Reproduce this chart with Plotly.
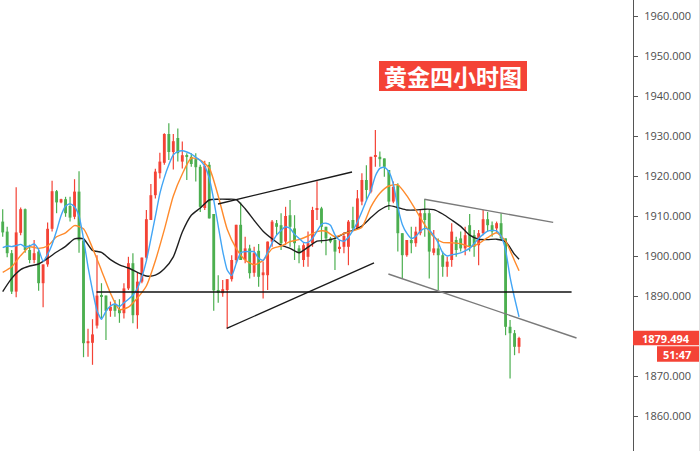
import plotly.graph_objects as go

# ---------------- data ----------------
opens = [1908.6, 1906.1, 1900.7, 1891.1, 1905.8, 1911.7, 1901.5, 1899.0, 1901.1, 1893.2,
         1897.9, 1906.8, 1916.2, 1913.4, 1914.2, 1912.5, 1909.8, 1916.1, 1903.9, 1878.2,
         1878.3, 1882.6, 1890.1, 1890.1, 1886.3, 1887.8, 1886.7, 1885.7, 1891.9, 1898.2,
         1885.2, 1893.6, 1899.6, 1909.0, 1915.2, 1920.7, 1923.3, 1930.5, 1926.0, 1929.5,
         1923.6, 1925.2, 1924.8, 1924.2, 1922.3, 1912.0, 1922.8, 1910.5, 1891.5, 1890.7,
         1891.5, 1894.2, 1899.0, 1907.8, 1899.0, 1901.9, 1895.8, 1901.3, 1895.2, 1895.2,
         1903.6, 1908.2, 1907.7, 1903.6, 1910.2, 1906.9, 1901.9, 1899.0, 1899.8, 1903.2,
         1911.5, 1911.9, 1907.3, 1904.4, 1904.0, 1901.9, 1902.3, 1902.3, 1909.0, 1906.9,
         1913.6, 1919.0, 1916.1, 1924.8, 1924.8, 1924.4, 1921.5, 1913.6, 1917.7, 1905.7,
         1900.2, 1904.0, 1903.2, 1905.7, 1910.7, 1910.7, 1900.8, 1901.9, 1900.2, 1897.3,
         1899.0, 1904.0, 1904.4, 1901.9, 1907.7, 1905.2, 1902.7, 1905.7, 1909.2, 1907.7,
         1906.9, 1908.2, 1904.4, 1882.3, 1880.7, 1877.3]
highs = [1911.7, 1907.3, 1901.5, 1917.2, 1912.1, 1911.9, 1902.8, 1904.0, 1901.5, 1897.9,
         1908.4, 1918.8, 1916.5, 1914.3, 1914.8, 1914.8, 1919.2, 1921.2, 1904.5, 1881.8,
         1884.2, 1900.2, 1893.2, 1890.1, 1888.6, 1889.0, 1889.2, 1893.2, 1899.8, 1900.7,
         1895.8, 1899.6, 1911.5, 1918.0, 1921.8, 1925.8, 1930.7, 1933.2, 1930.5, 1931.9,
         1928.6, 1925.7, 1925.7, 1925.7, 1922.8, 1923.8, 1923.5, 1910.5, 1895.2, 1894.0,
         1894.2, 1900.2, 1907.8, 1913.4, 1904.8, 1902.8, 1902.3, 1903.0, 1898.6, 1903.6,
         1909.0, 1909.0, 1910.7, 1912.3, 1914.0, 1910.2, 1902.7, 1903.2, 1906.1, 1912.3,
         1918.7, 1912.3, 1907.3, 1904.8, 1904.8, 1904.0, 1906.0, 1909.0, 1912.3, 1916.5,
         1920.7, 1922.7, 1924.8, 1931.5, 1926.1, 1924.4, 1921.5, 1918.6, 1918.2, 1905.7,
         1904.0, 1907.3, 1907.3, 1911.5, 1914.2, 1911.5, 1906.5, 1904.4, 1901.1, 1899.8,
         1908.2, 1904.8, 1906.1, 1907.3, 1910.5, 1906.5, 1906.5, 1911.5, 1911.0, 1908.6,
         1908.6, 1910.7, 1904.4, 1884.0, 1881.5, 1879.8]
lows = [1904.8, 1899.7, 1890.5, 1889.7, 1905.2, 1900.8, 1898.2, 1898.2, 1891.3, 1887.2,
        1897.3, 1906.1, 1910.7, 1913.2, 1909.8, 1908.6, 1909.2, 1900.8, 1874.7, 1874.8,
        1872.8, 1881.9, 1884.4, 1879.0, 1884.8, 1884.8, 1883.3, 1884.4, 1891.5, 1883.2,
        1881.8, 1893.2, 1899.0, 1909.0, 1914.4, 1919.4, 1922.8, 1924.0, 1921.6, 1923.6,
        1921.9, 1919.0, 1922.3, 1918.6, 1911.0, 1911.5, 1909.4, 1886.3, 1888.3, 1889.8,
        1881.9, 1893.6, 1898.2, 1899.0, 1898.2, 1894.4, 1894.8, 1892.3, 1889.4, 1891.5,
        1902.3, 1905.2, 1901.5, 1902.7, 1902.3, 1899.0, 1898.2, 1897.3, 1897.3, 1902.3,
        1909.0, 1903.2, 1900.2, 1903.2, 1896.5, 1900.7, 1900.7, 1897.7, 1906.5, 1906.5,
        1912.7, 1914.0, 1915.7, 1922.3, 1922.3, 1919.8, 1911.5, 1913.2, 1901.1, 1894.4,
        1899.8, 1900.7, 1902.3, 1905.2, 1904.8, 1894.4, 1900.2, 1891.5, 1894.8, 1894.8,
        1897.3, 1899.8, 1901.1, 1900.2, 1901.1, 1899.8, 1897.7, 1905.2, 1906.1, 1904.8,
        1905.7, 1904.0, 1880.2, 1869.4, 1875.2, 1875.7]
closes = [1905.9, 1900.7, 1891.1, 1905.9, 1911.7, 1901.5, 1899.0, 1900.7, 1893.2, 1897.9,
          1906.8, 1916.2, 1913.4, 1914.2, 1910.7, 1909.6, 1916.1, 1903.9, 1878.2, 1878.7,
          1880.4, 1890.1, 1889.8, 1886.3, 1887.3, 1886.3, 1885.7, 1891.9, 1898.2, 1885.2,
          1893.6, 1899.6, 1909.2, 1915.2, 1921.1, 1923.6, 1930.5, 1926.0, 1928.7, 1925.7,
          1925.2, 1924.8, 1923.0, 1922.2, 1912.3, 1922.5, 1909.4, 1891.4, 1890.8, 1891.7,
          1894.2, 1899.0, 1907.8, 1899.0, 1901.9, 1895.7, 1900.7, 1894.8, 1895.9, 1903.6,
          1908.6, 1907.3, 1903.2, 1910.0, 1907.3, 1903.2, 1900.7, 1902.7, 1903.2, 1911.5,
          1911.9, 1907.3, 1904.4, 1903.6, 1901.1, 1902.3, 1905.0, 1908.6, 1906.9, 1914.4,
          1919.0, 1916.5, 1924.8, 1925.1, 1924.2, 1922.3, 1913.6, 1917.3, 1905.7, 1900.2,
          1904.0, 1903.2, 1906.1, 1910.7, 1909.0, 1901.1, 1901.9, 1900.2, 1897.3, 1898.6,
          1906.1, 1901.5, 1901.9, 1905.2, 1902.3, 1902.3, 1905.7, 1909.2, 1907.7, 1906.1,
          1908.2, 1904.4, 1882.3, 1880.7, 1877.3, 1879.494]

# fast average (blue), one value per candle
ma_fast = [1902.1, 1902.5, 1902.35, 1902.6, 1902.9, 1902.3, 1902.5, 1903.0, 1901.6, 1898.7,
           1900.4, 1902.9, 1906.3, 1910.1, 1912.5, 1913.1, 1912.3, 1910.0, 1904.3, 1897.3,
           1891.4, 1886.3, 1884.2, 1886.2, 1887.5, 1888.0, 1887.4, 1888.3, 1889.2, 1890.2,
           1891.9, 1894.8, 1898.8, 1904.3, 1909.9, 1915.6, 1919.6, 1922.8, 1925.3, 1926.1,
           1926.3, 1926.0, 1925.5, 1924.7, 1923.9, 1922.4, 1919.5, 1914.0, 1907.5, 1901.2,
           1896.5, 1895.1, 1898.1, 1900.8, 1901.1, 1901.1, 1901.1, 1899.4, 1898.9, 1900.9,
           1903.3, 1905.2, 1906.4, 1907.3, 1906.9, 1905.4, 1904.4, 1903.4, 1903.4, 1904.4,
           1906.2, 1907.9, 1908.2, 1907.7, 1905.3, 1904.0, 1903.7, 1904.7, 1906.4, 1908.5,
           1911.1, 1913.9, 1916.4, 1920.0, 1921.9, 1922.2, 1921.1, 1918.0, 1912.2, 1907.9,
           1905.7, 1904.4, 1904.9, 1906.2, 1906.9, 1906.5, 1905.1, 1903.3, 1900.8, 1900.0,
           1900.3, 1900.5, 1900.8, 1901.3, 1901.9, 1903.1, 1904.4, 1905.4, 1906.2, 1906.4,
           1906.3, 1905.0, 1901.5, 1894.7, 1889.5, 1884.8]

# medium (orange) and slow (black) averages, read every second candle
ma_mid = [1895.9, 1897.3, 1900.1, 1902.3, 1901.9, 1902.5, 1904.8, 1905.8, 1907.6, 1906.8,
          1902.0, 1896.4, 1890.7, 1886.6, 1887.2, 1889.5, 1892.5, 1898.8, 1906.6, 1915.0,
          1920.5, 1924.5, 1924.0, 1922.0, 1915.0, 1906.7, 1901.9, 1899.0, 1897.8, 1898.9,
          1901.8, 1902.5, 1903.6, 1904.1, 1905.0, 1906.1, 1906.2, 1904.8, 1905.6, 1906.3,
          1907.2, 1912.3, 1915.7, 1917.5, 1917.8, 1915.1, 1911.5, 1907.8, 1904.8, 1903.4,
          1903.3, 1903.1, 1902.3, 1903.1, 1904.6, 1905.8, 1903.7, 1898.8, 1896.3]
ma_slow = [1891.1, 1894.4, 1896.6, 1897.5, 1898.0, 1899.4, 1901.0, 1902.4, 1904.3, 1904.3,
           1901.4, 1900.9, 1899.1, 1897.8, 1897.0, 1895.9, 1895.0, 1895.2, 1896.8, 1899.8,
           1906.0, 1910.2, 1912.0, 1914.0, 1914.2, 1914.2, 1914.1, 1911.8, 1908.9, 1906.2,
           1904.3, 1902.7, 1901.9, 1900.8, 1902.2, 1903.7, 1903.9, 1904.4, 1905.6, 1906.4,
           1907.5, 1909.6, 1911.5, 1912.6, 1912.1, 1911.5, 1911.5, 1911.7, 1911.6, 1910.5,
           1909.0, 1907.4, 1905.2, 1904.2, 1904.1, 1904.2, 1903.6, 1900.4, 1899.2]

n_bars = len(closes)
bar_idx = list(range(n_bars))
ma_sparse_idx = list(range(0, n_bars - 1, 2)) + [n_bars - 1]

y_tick_values = [1860, 1870, 1880, 1890, 1900, 1910, 1920, 1930, 1940, 1950, 1960]
y_tick_labels = ["1860.000", "1870.000", "", "1890.000", "1900.000", "1910.000",
                 "1920.000", "1930.000", "1940.000", "1950.000", "1960.000"]

last_price_text = "1879.494"
countdown_text = "51:47"
title_text = "黄金四小时图"

# hand-drawn trend lines (bar index, price)
rise_top_x = [47.95, 77.8]
rise_top_y = [1913.0, 1921.0]
rise_bot_x = [49.9, 82.7]
rise_bot_y = [1881.9, 1898.3]
flat_x = [20.9, 126.7]
flat_y = [1891.0, 1891.0]
chan_top_x = [93.9, 122.6]
chan_top_y = [1914.2, 1908.4]
chan_bot_x = [85.9, 127.8]
chan_bot_y = [1895.5, 1879.5]

# ---------------- figure ----------------
UP = "#f44336"
DOWN = "#4caf50"
W, H = 700, 451
PLOT_W = 633
Y_MIN, Y_MAX = 1851.25, 1964.0
X_MIN, X_MAX = -0.601, 140.38

fig = go.Figure()

colors = [UP if c >= o else DOWN for o, c in zip(opens, closes)]

# wicks
for col in (UP, DOWN):
    wx, wy = [], []
    for i in bar_idx:
        if colors[i] == col:
            wx += [i, i, None]
            wy += [lows[i], highs[i], None]
    fig.add_trace(go.Scatter(x=wx, y=wy, mode="lines",
                             line=dict(color=col, width=1.2), hoverinfo="skip",
                             showlegend=False))

# bodies
fig.add_trace(go.Bar(
    x=bar_idx,
    base=[min(o, c) for o, c in zip(opens, closes)],
    y=[max(abs(c - o), 0.3) for o, c in zip(opens, closes)],
    width=0.64,
    marker=dict(color=colors, line=dict(width=0)),
    hoverinfo="skip", showlegend=False))

# moving averages
fig.add_trace(go.Scatter(x=ma_sparse_idx, y=ma_slow, mode="lines",
                         line=dict(color="#1f1f1f", width=1.4, shape="spline", smoothing=0.6),
                         hoverinfo="skip", showlegend=False))
fig.add_trace(go.Scatter(x=ma_sparse_idx, y=ma_mid, mode="lines",
                         line=dict(color="#ff8a2b", width=1.4, shape="spline", smoothing=0.6),
                         hoverinfo="skip", showlegend=False))
fig.add_trace(go.Scatter(x=bar_idx, y=ma_fast, mode="lines",
                         line=dict(color="#42a5f5", width=1.4, shape="spline", smoothing=0.5),
                         hoverinfo="skip", showlegend=False))

# trend lines
for lx, ly, col, lw in [(rise_top_x, rise_top_y, "#1a1a1a", 1.3),
                        (rise_bot_x, rise_bot_y, "#1a1a1a", 1.3),
                        (flat_x, flat_y, "#111111", 1.4),
                        (chan_top_x, chan_top_y, "#7a7a7a", 1.4),
                        (chan_bot_x, chan_bot_y, "#7a7a7a", 1.4)]:
    fig.add_trace(go.Scatter(x=lx, y=ly, mode="lines", line=dict(color=col, width=lw),
                             hoverinfo="skip", showlegend=False))


def px_x(px):
    return px / PLOT_W


def px_y(py):
    return 1 - py / H


def price_to_paper(p):
    return (p - Y_MIN) / (Y_MAX - Y_MIN)


shapes = []
annotations = []

# title badge
shapes.append(dict(type="rect", xref="paper", yref="paper",
                   x0=px_x(379), x1=px_x(527), y0=px_y(91), y1=px_y(61),
                   fillcolor=UP, line=dict(width=0), layer="above"))
annotations.append(dict(text="<b>" + title_text + "</b>", xref="paper", yref="paper",
                        x=px_x(453), y=px_y(76), xanchor="center", yanchor="middle",
                        showarrow=False,
                        font=dict(family="Noto Sans CJK SC", size=23, color="white")))

# last price label
lp = closes[-1]
lp_y = price_to_paper(lp)
half = 7.2 / H
shapes.append(dict(type="rect", xref="paper", yref="paper",
                   x0=px_x(633), x1=px_x(699), y0=lp_y - half, y1=lp_y + half,
                   fillcolor=UP, line=dict(width=0), layer="above"))
annotations.append(dict(text="<b>" + last_price_text + "</b>", xref="paper", yref="paper",
                        x=px_x(666), y=lp_y, xanchor="center", yanchor="middle",
                        showarrow=False,
                        font=dict(family="Open Sans", size=11, color="white")))
# countdown label
cd_top = lp_y - half - 1 / H
cd_bot = cd_top - 15.6 / H
shapes.append(dict(type="rect", xref="paper", yref="paper",
                   x0=px_x(657), x1=px_x(699), y0=cd_bot, y1=cd_top,
                   fillcolor=UP, line=dict(width=0), layer="above"))
annotations.append(dict(text="<b>" + countdown_text + "</b>", xref="paper", yref="paper",
                        x=px_x(677), y=(cd_top + cd_bot) / 2, xanchor="center",
                        yanchor="middle", showarrow=False,
                        font=dict(family="Open Sans", size=11, color="white")))

# faint right border
shapes.append(dict(type="line", xref="paper", yref="paper",
                   x0=px_x(699.5), x1=px_x(699.5), y0=0, y1=1,
                   line=dict(color="#e0e0e0", width=1)))

fig.update_layout(
    width=W, height=H,
    margin=dict(l=0, r=W - PLOT_W, t=0, b=0),
    paper_bgcolor="white", plot_bgcolor="white",
    showlegend=False, hovermode=False,
    shapes=shapes, annotations=annotations,
    xaxis=dict(range=[X_MIN, X_MAX], visible=False, fixedrange=True),
    yaxis=dict(range=[Y_MIN, Y_MAX], side="right", showgrid=False, zeroline=False,
               showline=True, linecolor="#555555", linewidth=1,
               ticks="outside", ticklen=4, tickcolor="#555555", tickwidth=1,
               tickvals=y_tick_values, ticktext=y_tick_labels,
               ticklabelstandoff=4,
               tickfont=dict(family="Open Sans", size=11, color="#4d4d4d"),
               fixedrange=True),
)

fig.write_html("out.html", config={"displayModeBar": False},
               post_script="document.body.style.margin='0px';"
                           "document.body.style.overflow='hidden';")
